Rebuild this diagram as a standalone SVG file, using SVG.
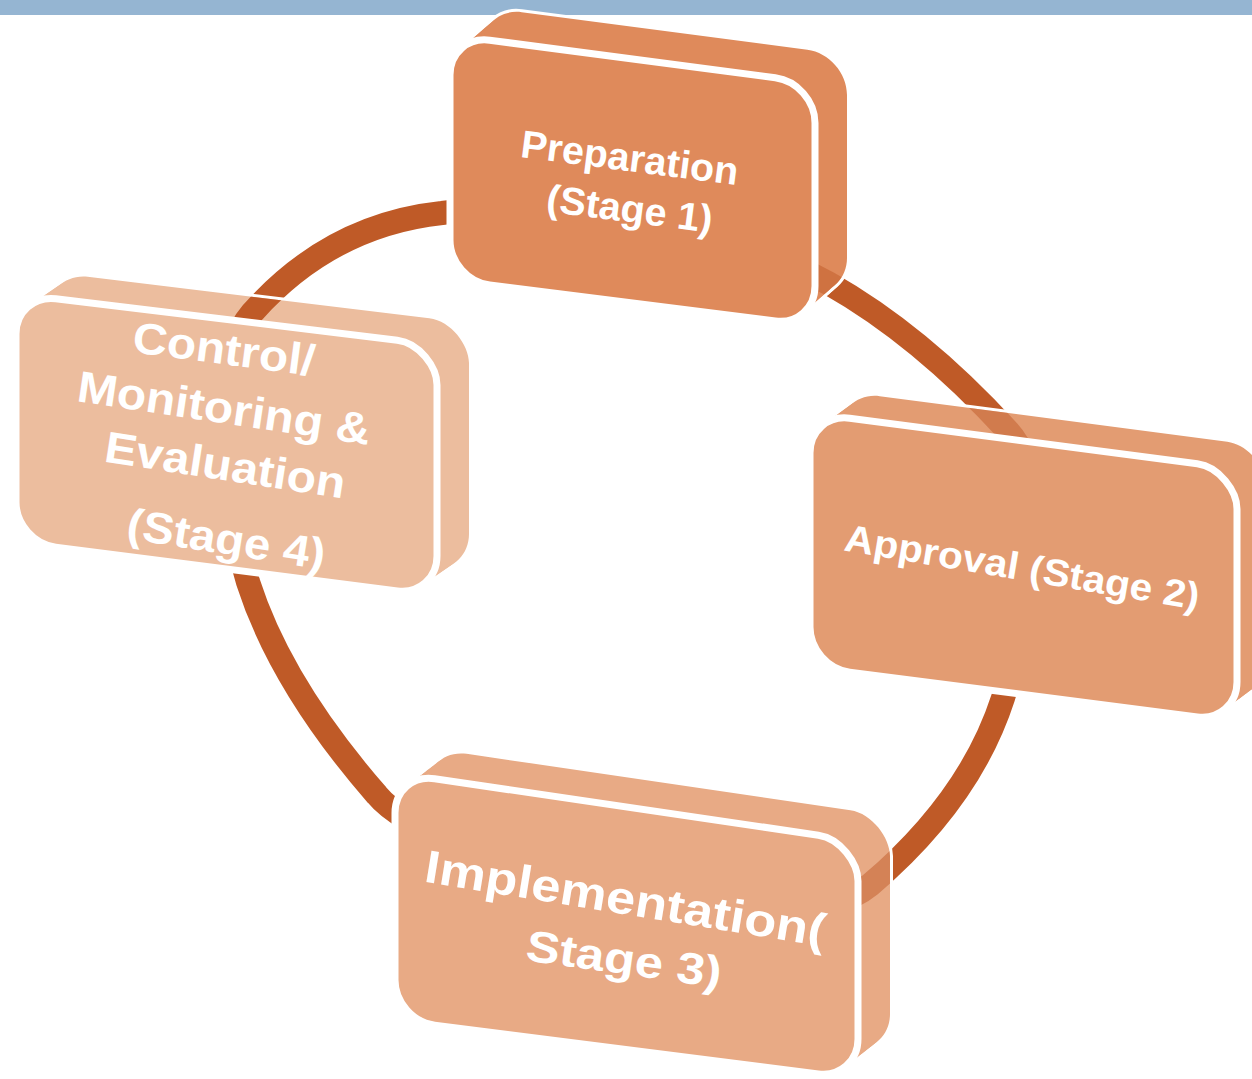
<svg xmlns="http://www.w3.org/2000/svg" xmlns:xlink="http://www.w3.org/1999/xlink" width="1252" height="1079" viewBox="0 0 1252 1079">
<style>
.lbl{font-family:"Liberation Sans",Arial,"DejaVu Sans",sans-serif;font-weight:bold;fill:#ffffff;text-anchor:middle}
.outl{fill:#ffffff;stroke:#ffffff;stroke-width:6;stroke-linejoin:round}
.front{stroke:#ffffff;stroke-width:7;stroke-linejoin:round}
.ring{fill:none;stroke:#bf5a27;stroke-width:24}
</style>
<defs>
<path id="fPrep" d="M489.7,40.2 L775.3,77.8 C797.1,80.7 815,101 815,123 L815,286 C815,308 797.1,323.8 775.3,321 L489.7,285 C467.9,282.3 450,262 450,240 L450,75 C450,53 467.9,37.3 489.7,40.2 Z"/>
<path id="fAppr" d="M849.7,418.2 L1197.3,463.8 C1219.1,466.7 1237,491 1237,509 L1237,682 C1237,704 1219.1,719.7 1197.3,716.9 L849.7,672.1 C827.9,669.3 810,649 810,627 L810,453 C810,431 827.9,415.3 849.7,418.2 Z"/>
<path id="fImpl" d="M434.6,778.8 L818.4,835.2 C840.2,838.4 858,863 858,881 L858,1039 C858,1061 840.1,1076.7 818.3,1073.9 L434.7,1025.1 C412.9,1022.3 395,1002 395,980 L395,813 C395,791 412.8,775.6 434.6,778.8 Z"/>
<path id="fCtrl" d="M55.7,298.8 L397.3,340.2 C419.1,342.8 437,367 437,385 L437,556 C437,578 419.1,593.7 397.3,590.9 L55.7,547.1 C33.9,544.3 16,524 16,502 L16,334 C16,312 33.9,296.4 55.7,298.8 Z"/>
<path id="ringPath" d="M442,213 C580,195 720,225 828,283 Q920,335 1007,430 C1060,488 1030,610 1003,698 Q970,800 870,885 C780,960 430,860 377,795 Q281,685 248,582 C215,470 215,355 252,313 Q330,225 442,213 Z"/>
<g id="sPrep">
<use xlink:href="#fPrep" transform="translate(4,-3.5)"/><use xlink:href="#fPrep" transform="translate(8,-7)"/><use xlink:href="#fPrep" transform="translate(12,-10.5)"/><use xlink:href="#fPrep" transform="translate(16,-14)"/><use xlink:href="#fPrep" transform="translate(20,-17.5)"/><use xlink:href="#fPrep" transform="translate(24,-21)"/><use xlink:href="#fPrep" transform="translate(28,-24.5)"/><use xlink:href="#fPrep" transform="translate(32,-28)"/>
</g>
<g id="sAppr">
<use xlink:href="#fAppr" transform="translate(3.75,-2.75)"/><use xlink:href="#fAppr" transform="translate(7.5,-5.5)"/><use xlink:href="#fAppr" transform="translate(11.25,-8.25)"/><use xlink:href="#fAppr" transform="translate(15,-11)"/><use xlink:href="#fAppr" transform="translate(18.75,-13.75)"/><use xlink:href="#fAppr" transform="translate(22.5,-16.5)"/><use xlink:href="#fAppr" transform="translate(26.25,-19.25)"/><use xlink:href="#fAppr" transform="translate(30,-22)"/>
</g>
<g id="sImpl">
<use xlink:href="#fImpl" transform="translate(4,-3.125)"/><use xlink:href="#fImpl" transform="translate(8,-6.25)"/><use xlink:href="#fImpl" transform="translate(12,-9.375)"/><use xlink:href="#fImpl" transform="translate(16,-12.5)"/><use xlink:href="#fImpl" transform="translate(20,-15.625)"/><use xlink:href="#fImpl" transform="translate(24,-18.75)"/><use xlink:href="#fImpl" transform="translate(28,-21.875)"/><use xlink:href="#fImpl" transform="translate(32,-25)"/>
</g>
<g id="sCtrl">
<use xlink:href="#fCtrl" transform="translate(4,-2.75)"/><use xlink:href="#fCtrl" transform="translate(8,-5.5)"/><use xlink:href="#fCtrl" transform="translate(12,-8.25)"/><use xlink:href="#fCtrl" transform="translate(16,-11)"/><use xlink:href="#fCtrl" transform="translate(20,-13.75)"/><use xlink:href="#fCtrl" transform="translate(24,-16.5)"/><use xlink:href="#fCtrl" transform="translate(28,-19.25)"/><use xlink:href="#fCtrl" transform="translate(32,-22)"/>
</g>
<clipPath id="cPrep">
<use xlink:href="#fPrep" transform="translate(8,-7)"/><use xlink:href="#fPrep" transform="translate(16,-14)"/><use xlink:href="#fPrep" transform="translate(24,-21)"/><use xlink:href="#fPrep" transform="translate(32,-28)"/>
</clipPath>
<clipPath id="cAppr">
<use xlink:href="#fAppr" transform="translate(7.5,-5.5)"/><use xlink:href="#fAppr" transform="translate(15,-11)"/><use xlink:href="#fAppr" transform="translate(22.5,-16.5)"/><use xlink:href="#fAppr" transform="translate(30,-22)"/>
</clipPath>
<clipPath id="cImpl">
<use xlink:href="#fImpl" transform="translate(8,-6.25)"/><use xlink:href="#fImpl" transform="translate(16,-12.5)"/><use xlink:href="#fImpl" transform="translate(24,-18.75)"/><use xlink:href="#fImpl" transform="translate(32,-25)"/>
</clipPath>
<clipPath id="cCtrl">
<use xlink:href="#fCtrl" transform="translate(8,-5.5)"/><use xlink:href="#fCtrl" transform="translate(16,-11)"/><use xlink:href="#fCtrl" transform="translate(24,-16.5)"/><use xlink:href="#fCtrl" transform="translate(32,-22)"/>
</clipPath>
</defs>
<rect x="0" y="0" width="1252" height="1079" fill="#ffffff"/>
<rect id="topband" x="0" y="0" width="1252" height="15" fill="#95b5d2"/>
<g id="connectors">
<use xlink:href="#ringPath" class="ring"/>
</g>
<g id="node-preparation">
<use xlink:href="#sPrep" class="outl"/>
<use xlink:href="#sPrep" fill="#df8a5b"/>
<use xlink:href="#ringPath" class="ring" opacity="0.5" clip-path="url(#cPrep)"/>
<use xlink:href="#fPrep" class="front" fill="#df8a5b"/>
<text class="lbl" font-size="39" textLength="219" lengthAdjust="spacingAndGlyphs" transform="translate(628,171) rotate(7.4)">Preparation</text>
<text class="lbl" font-size="39" textLength="167" lengthAdjust="spacingAndGlyphs" transform="translate(628,222) rotate(7.4)">(Stage 1)</text>
</g>
<g id="node-approval">
<use xlink:href="#sAppr" class="outl"/>
<use xlink:href="#sAppr" fill="#e39c72"/>
<use xlink:href="#ringPath" class="ring" opacity="0.5" clip-path="url(#cAppr)"/>
<use xlink:href="#fAppr" class="front" fill="#e39c72"/>
<text class="lbl" font-size="38" textLength="359" lengthAdjust="spacingAndGlyphs" transform="translate(1020,580) rotate(9.5)">Approval (Stage 2)</text>
</g>
<g id="node-implementation">
<use xlink:href="#sImpl" class="outl"/>
<use xlink:href="#sImpl" fill="#e8aa85"/>
<use xlink:href="#ringPath" class="ring" opacity="0.5" clip-path="url(#cImpl)"/>
<use xlink:href="#fImpl" class="front" fill="#e8aa85"/>
<text class="lbl" font-size="46" textLength="405" lengthAdjust="spacingAndGlyphs" transform="translate(623,914) rotate(9.2)">Implementation(</text>
<text class="lbl" font-size="44" textLength="197" lengthAdjust="spacingAndGlyphs" transform="translate(622,974) rotate(8)">Stage 3)</text>
</g>
<g id="node-control">
<use xlink:href="#sCtrl" class="outl"/>
<use xlink:href="#sCtrl" fill="#ecbd9e"/>
<use xlink:href="#ringPath" class="ring" clip-path="url(#cCtrl)"/>
<use xlink:href="#fCtrl" class="front" fill="#ecbd9e"/>
<text class="lbl" font-size="44" textLength="183" lengthAdjust="spacingAndGlyphs" transform="translate(222,364) rotate(7.5)">Control/</text>
<text class="lbl" font-size="44" textLength="296" lengthAdjust="spacingAndGlyphs" transform="translate(222,423) rotate(8.5)">Monitoring &amp;</text>
<text class="lbl" font-size="44" textLength="243" lengthAdjust="spacingAndGlyphs" transform="translate(223,480) rotate(8.8)">Evaluation</text>
<text class="lbl" font-size="44" textLength="200" lengthAdjust="spacingAndGlyphs" transform="translate(224,554) rotate(9)">(Stage 4)</text>
</g>
</svg>
